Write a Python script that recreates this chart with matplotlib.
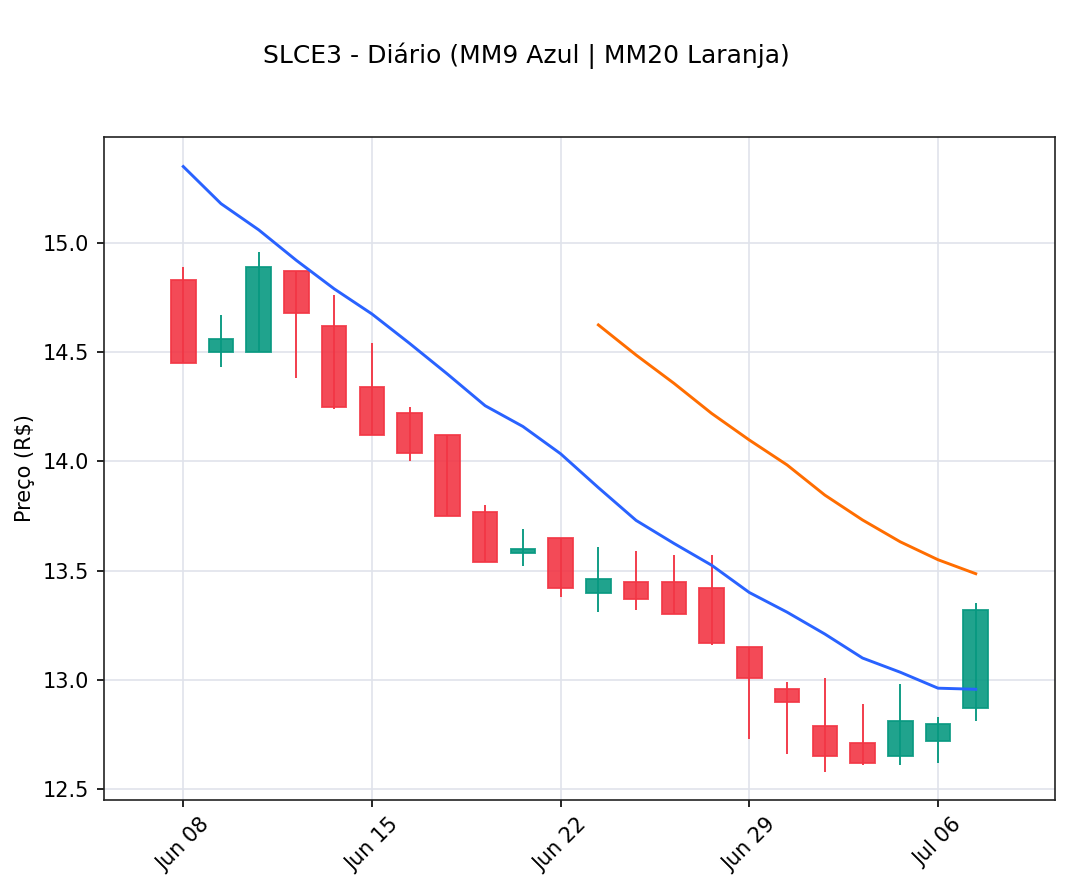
import numpy as np
import matplotlib
matplotlib.use("Agg")
import matplotlib.pyplot as plt
from matplotlib.patches import Rectangle

# daily candles, SLCE3
dates = ["2020-06-08", "2020-06-09", "2020-06-10", "2020-06-11", "2020-06-12",
         "2020-06-15", "2020-06-16", "2020-06-17", "2020-06-18", "2020-06-19",
         "2020-06-22", "2020-06-23", "2020-06-24", "2020-06-25", "2020-06-26",
         "2020-06-29", "2020-06-30", "2020-07-01", "2020-07-02", "2020-07-03",
         "2020-07-06", "2020-07-07"]
opens = [14.83, 14.50, 14.50, 14.87, 14.62, 14.34, 14.22, 14.12, 13.77, 13.58, 13.65,
         13.40, 13.45, 13.45, 13.42, 13.15, 12.96, 12.79, 12.71, 12.65, 12.72, 12.87]
highs = [14.89, 14.67, 14.96, 14.87, 14.76, 14.54, 14.25, 14.12, 13.80, 13.69, 13.65,
         13.61, 13.59, 13.57, 13.57, 13.15, 12.99, 13.01, 12.89, 12.98, 12.83, 13.35]
lows = [14.45, 14.43, 14.50, 14.38, 14.24, 14.12, 14.00, 13.75, 13.54, 13.52, 13.38,
        13.31, 13.32, 13.30, 13.16, 12.73, 12.66, 12.58, 12.61, 12.61, 12.62, 12.81]
closes = [14.45, 14.56, 14.89, 14.68, 14.25, 14.12, 14.04, 13.75, 13.54, 13.60, 13.42,
          13.46, 13.37, 13.30, 13.17, 13.01, 12.90, 12.65, 12.62, 12.81, 12.80, 13.32]
mm9 = [15.35, 15.18, 15.06, 14.92, 14.79, 14.675, 14.54, 14.40, 14.255, 14.16, 14.035,
       13.88, 13.73, 13.625, 13.525, 13.40, 13.31, 13.21, 13.10, 13.035, 12.962, 12.957]
mm20 = [np.nan] * 11 + [14.625, 14.487, 14.358, 14.22, 14.098, 13.984, 13.846,
                        13.732, 13.632, 13.55, 13.486]

up_col = "#089981"
down_col = "#f23645"

plt.rcParams['font.family'] = ['DejaVu Sans']
fig = plt.figure(figsize=(1069 / 150, 891 / 150), dpi=150)
ax = fig.add_axes([0.0973, 0.1021, 0.8896, 0.7441])

x = np.arange(len(dates))
w = 0.65
for i in x:
    o, h, l, c = opens[i], highs[i], lows[i], closes[i]
    col = up_col if c >= o else down_col
    ax.vlines(i, l, h, color=col, linewidth=0.9, zorder=2)
    ax.add_patch(Rectangle((i - w / 2, min(o, c)), w, abs(c - o),
                           facecolor=col, edgecolor=col, alpha=0.9,
                           linewidth=0.9, zorder=3))

ax.plot(x, mm9, color="#2962ff", linewidth=1.4, zorder=4)
ax.plot(x, mm20, color="#ff6d00", linewidth=1.4, zorder=4)

ax.set_xlim(-2.1, 23.1)
ax.set_ylim(12.45, 15.485)
ticks = [0, 5, 10, 15, 20]
labels = [np.datetime64(dates[t]).astype(object).strftime("%b %d") for t in ticks]
ax.set_xticks(ticks)
ax.set_xticklabels(labels, rotation=45, fontsize=10)
ax.set_yticks([12.5, 13.0, 13.5, 14.0, 14.5, 15.0])
ax.tick_params(axis='y', labelsize=10)
ax.grid(True, color="#e0e3eb", linewidth=0.8, zorder=0)
ax.set_axisbelow(True)
for s in ax.spines.values():
    s.set_color("#222222")
ax.set_ylabel("Preço (R\\$)", fontsize=10)

fig.suptitle("SLCE3 - Diário (MM9 Azul | MM20 Laranja)", fontsize=12, x=0.4925, y=0.952)

fig.savefig("out.png", dpi=150)
